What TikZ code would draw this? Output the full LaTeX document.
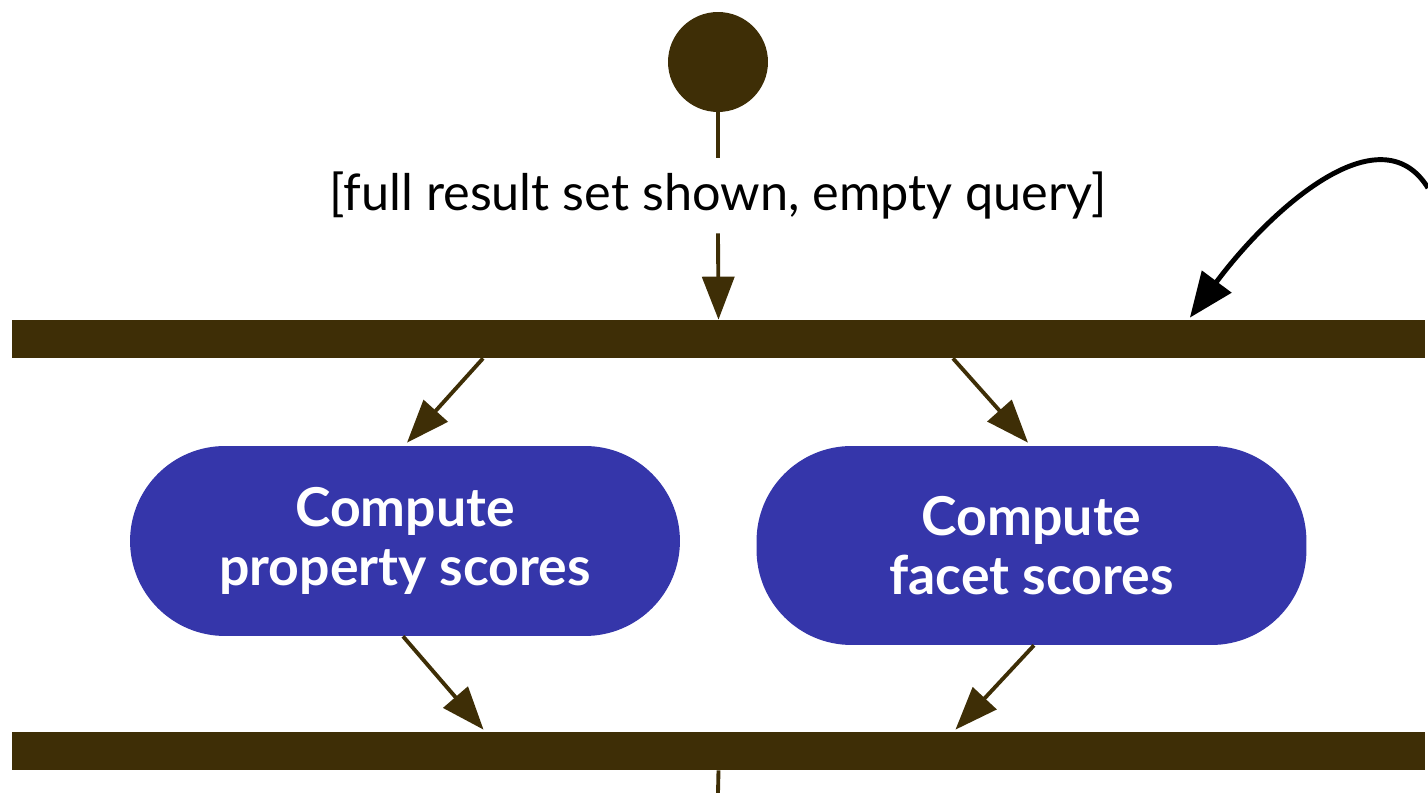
\documentclass[tikz,border=0pt]{standalone}
\usepackage{fontspec}
\setmainfont{Lato}
\usetikzlibrary{arrows.meta}
\definecolor{barbrown}{RGB}{62,46,6}
\definecolor{actblue}{RGB}{53,54,170}

\begin{document}
\begin{tikzpicture}[x=0.02cm,y=-0.02cm,
  bar/.style={fill=barbrown,minimum width=28.26cm,minimum height=0.76cm,inner sep=0},
  action/.style={fill=actblue,text=white,rounded corners=1.9cm,minimum width=11cm,
    inner sep=0,align=center,font=\fontsize{30.5}{33.5}\selectfont\bfseries},
  flow/.style={barbrown,line width=2.2pt,-{Triangle[length=0.86cm,width=0.64cm]}},
  back/.style={black,line width=2.8pt,-{Triangle[length=0.9cm,width=0.72cm]}}]
\useasboundingbox (0,0) rectangle (1428,793);

\node[circle,fill=barbrown,minimum size=2cm,inner sep=0] (start) at (718,62) {};
\node[inner sep=0,minimum height=1.5cm,font=\fontsize{28.7}{32}\selectfont] (cond) at (718,195.5)
  {[full result set shown, empty query]};
\node[bar] (fork) at (718.5,339) {};
\node[bar] (join) at (718.5,751) {};
\node[action,minimum height=3.8cm] (prop) at (405,541) {Compute\\property scores};
\node[action,minimum height=3.98cm] (facet) at (1031.5,545.5) {Compute\\facet scores};
\coordinate (out) at (718,793);
\coordinate (loop) at (1428,188);

\draw[barbrown,line width=2.2pt] (start.south) -- (cond.north);
\draw[flow] (cond.south) -- (fork.north);
\draw[flow] ([xshift=-4.71cm]fork.south) -- ([xshift=0.04cm,yshift=0.06cm]prop.north);
\draw[flow] ([xshift=4.69cm]fork.south) -- ([xshift=-0.07cm,yshift=0.06cm]facet.north);
\draw[flow] ([xshift=-0.04cm]prop.south) -- ([xshift=-4.7cm,yshift=0.04cm]join.north);
\draw[flow] ([xshift=0.05cm]facet.south) -- ([xshift=4.74cm,yshift=0.04cm]join.north);
\draw[barbrown,line width=2.2pt] (join.south) -- (out);
\draw[back] (loop) .. controls (1380,110) and (1270,210) .. ([xshift=9.43cm,yshift=0.04cm]fork.north);
\end{tikzpicture}
\end{document}
